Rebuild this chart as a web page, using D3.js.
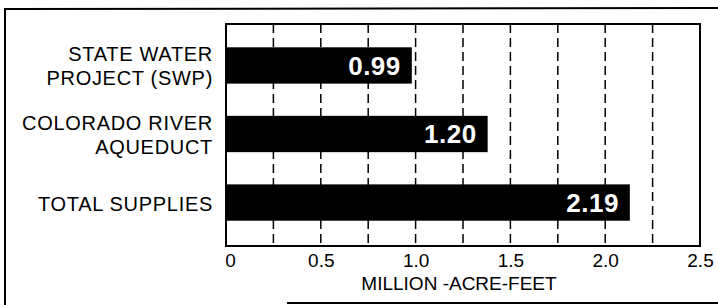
<!DOCTYPE html>
<html>
<head>
<meta charset="utf-8">
<script src="https://cdn.jsdelivr.net/npm/d3@7"></script>
<style>
  html, body { margin: 0; padding: 0; background: #fff; }
  svg { display: block; }
  text { font-family: "Liberation Sans", Arial, Helvetica, sans-serif; fill: #000; }
</style>
</head>
<body>
<svg id="chart" width="718" height="305"></svg>
<script>
// categories, top to bottom
const categories = ['SWP', 'CRA', 'TOTAL'];
const categoryLines = [
  ['STATE WATER', 'PROJECT (SWP)'],
  ['COLORADO RIVER', 'AQUEDUCT'],
  ['TOTAL SUPPLIES'],
];
// bar lengths as drawn in the picture (million acre-feet)
const barLengths = [0.98, 1.38, 2.13];
// numbers printed on the bars
const valueLabels = ['0.99', '1.20', '2.19'];
const tickValues = [0, 0.5, 1.0, 1.5, 2.0, 2.5];
const gridValues = [0.25, 0.5, 0.75, 1.0, 1.25, 1.5, 1.75, 2.0, 2.25];
const axisTitle = 'MILLION -ACRE-FEET';

const plot = { left: 226, right: 700, top: 24, bottom: 246 };

const svg = d3.select('#chart');

// outer frame (only the parts that show in the scan)
svg.append('line').attr('x1', 5).attr('y1', 9).attr('x2', 5).attr('y2', 305)
  .attr('stroke', '#000').attr('stroke-width', 2);
svg.append('line').attr('x1', 4).attr('y1', 9).attr('x2', 718).attr('y2', 8)
  .attr('stroke', '#000').attr('stroke-width', 2);
svg.append('line').attr('x1', 287).attr('y1', 303).attr('x2', 718).attr('y2', 303)
  .attr('stroke', '#000').attr('stroke-width', 2);

const x = d3.scaleLinear().domain([0, 2.5]).range([plot.left, plot.right]);
const y = d3.scaleBand()
  .domain(categories)
  .range([plot.top, 244])
  .paddingInner(0.47)
  .paddingOuter(0.34);

// dashed grid
svg.append('g')
  .selectAll('line')
  .data(gridValues)
  .join('line')
  .attr('x1', (d) => x(d))
  .attr('x2', (d) => x(d))
  .attr('y1', plot.top)
  .attr('y2', plot.bottom)
  .attr('stroke', '#000')
  .attr('stroke-width', 1.5)
  .attr('stroke-dasharray', '9,5');

// bars
svg.append('g')
  .selectAll('rect')
  .data(categories)
  .join('rect')
  .attr('x', x(0))
  .attr('y', (d) => y(d))
  .attr('width', (d, i) => x(barLengths[i]) - x(0))
  .attr('height', y.bandwidth())
  .attr('fill', '#000');

// value labels
svg.append('g')
  .selectAll('text')
  .data(categories)
  .join('text')
  .attr('x', (d, i) => x(barLengths[i]) - 11)
  .attr('y', (d) => y(d) + y.bandwidth() / 2)
  .attr('dy', '0.36em')
  .attr('text-anchor', 'end')
  .attr('font-size', 26)
  .attr('font-weight', 'bold')
  .attr('letter-spacing', 0.5)
  .style('fill', '#fff')
  .text((d, i) => valueLabels[i]);

// plot border
svg.append('rect')
  .attr('x', plot.left)
  .attr('y', plot.top)
  .attr('width', plot.right - plot.left)
  .attr('height', plot.bottom - plot.top)
  .attr('fill', 'none')
  .attr('stroke', '#000')
  .attr('stroke-width', 2);

// category axis
const yAxis = svg.append('g')
  .attr('transform', `translate(${plot.left - 13},0)`)
  .call(d3.axisLeft(y).tickSize(0).tickPadding(0));
yAxis.select('.domain').remove();
yAxis.selectAll('.tick text')
  .attr('font-size', 20)
  .attr('font-family', null)
  .attr('letter-spacing', 0.7)
  .attr('x', 0)
  .attr('dy', null)
  .text(null)
  .each(function (d) {
    const lines = categoryLines[categories.indexOf(d)];
    const t = d3.select(this);
    lines.forEach((ln, i) => {
      t.append('tspan')
        .attr('x', 0)
        .attr('y', (i - (lines.length - 1) / 2) * 24 + 8)
        .text(ln);
    });
  });

// value axis
const xAxis = svg.append('g')
  .attr('transform', `translate(0,${plot.bottom})`)
  .call(d3.axisBottom(x)
    .tickValues(tickValues)
    .tickSize(0)
    .tickPadding(8)
    .tickFormat((d) => (d === 0 ? '0' : d3.format('.1f')(d))));
xAxis.select('.domain').remove();
xAxis.selectAll('.tick text')
  .attr('font-size', 19)
  .attr('font-family', null);
xAxis.selectAll('.tick')
  .filter((d) => d === 0)
  .select('text')
  .attr('x', 4);

svg.append('text')
  .attr('x', x(1.25) - 4)
  .attr('y', 290)
  .attr('text-anchor', 'middle')
  .attr('font-size', 19)
  .text(axisTitle);
</script>
</body>
</html>
